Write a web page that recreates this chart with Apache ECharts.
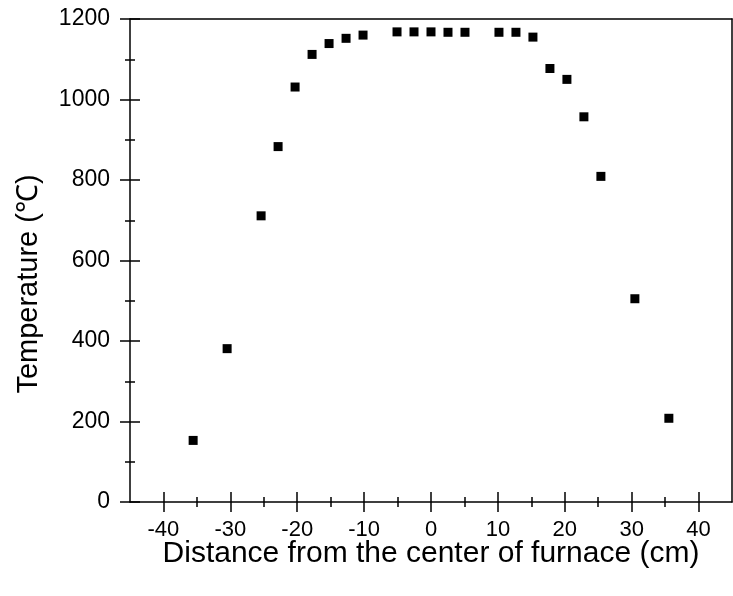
<!DOCTYPE html>
<html>
<head>
<meta charset="utf-8">
<script src="https://cdn.jsdelivr.net/npm/echarts@6/dist/echarts.min.js"></script>
<style>
html,body{margin:0;padding:0;background:#fff;}
#chart{width:733px;height:596px;}
</style>
</head>
<body>
<div id="chart"></div>
<script>
// Distance from furnace center (cm) and measured temperature (°C)
const distance = [-35.56, -30.48, -25.4, -22.86, -20.32, -17.78, -15.24, -12.7, -10.16,
  -5.08, -2.54, 0, 2.54, 5.08, 10.16, 12.7, 15.24, 17.78, 20.32, 22.86, 25.4, 30.48, 35.56];
const temperature = [153, 381, 711, 883, 1031, 1112, 1139, 1152, 1160,
  1168, 1168, 1168, 1167, 1167, 1167, 1167, 1155, 1077, 1050, 957, 809, 505, 208];
const xMajorTicks = [-40, -30, -20, -10, 0, 10, 20, 30, 40];
const xMinorTicks = [-35, -25, -15, -5, 5, 15, 25, 35];
const yMajorTicks = [0, 200, 400, 600, 800, 1000, 1200];
const yMinorTicks = [100, 300, 500, 700, 900, 1100];
const xTitle = 'Distance from the center of furnace (cm)';
const yTitle = 'Temperature (℃)';

const points = distance.map((d, i) => [d, temperature[i]]);
const FONT = '"Liberation Sans", Arial, sans-serif';

const chart = echarts.init(document.getElementById('chart'), null, {renderer: 'canvas'});
const lineStyle = {color: '#000', width: 1.5};
function xAxisDef(opts) {
  return Object.assign({
    type: 'value', min: -45, max: 45, interval: 5, position: 'bottom', offset: 0,
    axisLine: {show: false, onZero: false},
    axisTick: {show: false},
    axisLabel: {show: false},
    splitLine: {show: false},
    minorTick: {show: false}
  }, opts);
}
function yAxisDef(opts) {
  return Object.assign({
    type: 'value', min: 0, max: 1200, interval: 100, position: 'left', offset: 0,
    axisLine: {show: false, onZero: false},
    axisTick: {show: false},
    axisLabel: {show: false},
    splitLine: {show: false},
    minorTick: {show: false}
  }, opts);
}
chart.setOption({
  backgroundColor: '#fff',
  animation: false,
  grid: {left: 130, right: 1, top: 19, bottom: 94, show: false},
  xAxis: [
    xAxisDef({
      name: xTitle, nameLocation: 'middle', nameGap: 37, nameMoveOverlap: false,
      nameTextStyle: {fontFamily: FONT, fontSize: 30, color: '#000'},
      axisLine: {show: true, onZero: false, lineStyle: lineStyle},
      axisTick: {show: true, inside: false, length: 10, lineStyle: lineStyle, customValues: xMajorTicks},
      axisLabel: {show: true, margin: 17, fontFamily: FONT, fontSize: 22, color: '#000', customValues: xMajorTicks,
        formatter: v => String(v)}
    }),
    xAxisDef({axisTick: {show: true, inside: true, length: 10, lineStyle: lineStyle, customValues: xMajorTicks}}),
    xAxisDef({axisTick: {show: true, inside: false, length: 5, lineStyle: lineStyle, customValues: xMinorTicks}}),
    xAxisDef({axisTick: {show: true, inside: true, length: 5, lineStyle: lineStyle, customValues: xMinorTicks}}),
    xAxisDef({position: 'top', axisLine: {show: true, onZero: false, lineStyle: lineStyle}})
  ],
  yAxis: [
    yAxisDef({
      axisLine: {show: true, onZero: false, lineStyle: lineStyle},
      axisTick: {show: true, inside: false, length: 10, lineStyle: lineStyle, customValues: yMajorTicks},
      axisLabel: {show: true, margin: 20, fontFamily: FONT, fontSize: 23, color: '#000', customValues: yMajorTicks,
        formatter: v => String(v)}
    }),
    yAxisDef({axisTick: {show: true, inside: true, length: 10, lineStyle: lineStyle, customValues: yMajorTicks}}),
    yAxisDef({axisTick: {show: true, inside: false, length: 5, lineStyle: lineStyle, customValues: yMinorTicks}}),
    yAxisDef({axisTick: {show: true, inside: true, length: 5, lineStyle: lineStyle, customValues: yMinorTicks}}),
    yAxisDef({position: 'right', axisLine: {show: true, onZero: false, lineStyle: lineStyle}})
  ],
  graphic: [{
    type: 'text', x: 29, y: 284, rotation: Math.PI / 2,
    style: {text: yTitle, fontFamily: FONT, fontSize: 29, fill: '#000', align: 'center', verticalAlign: 'middle'}
  }],
  series: [{
    type: 'scatter', xAxisIndex: 0, yAxisIndex: 0,
    symbol: 'rect', symbolSize: 9,
    itemStyle: {color: '#000', opacity: 1},
    data: points
  }]
});
</script>
</body>
</html>
